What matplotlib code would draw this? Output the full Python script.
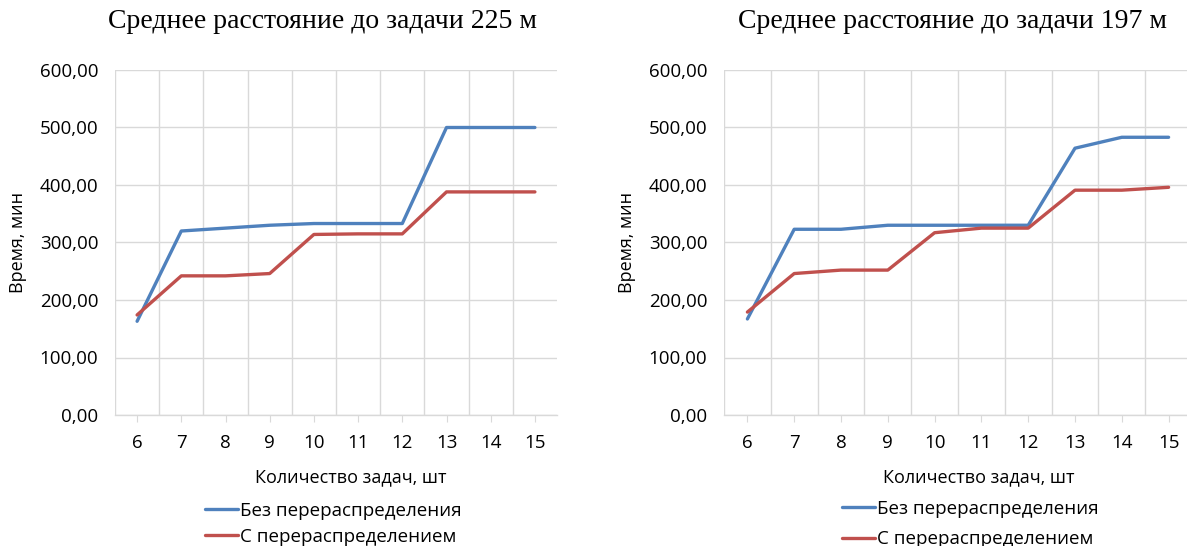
import matplotlib
matplotlib.use("Agg")
import matplotlib.pyplot as plt
from matplotlib.ticker import FuncFormatter, FixedLocator

tasks = [6, 7, 8, 9, 10, 11, 12, 13, 14, 15]
left_no_redistr = [163, 320, 325, 330, 333, 333, 333, 500, 500, 500]
left_redistr = [174, 242, 242, 246, 314, 315, 315, 388, 388, 388]
right_no_redistr = [167, 323, 323, 330, 330, 330, 330, 464, 483, 483]
right_redistr = [179, 246, 252, 252, 317, 325, 325, 391, 391, 396]
titles = ["Среднее расстояние до задачи 225 м", "Среднее расстояние до задачи 197 м"]
series_names = ["Без перераспределения", "С перераспределением"]
xlabel = "Количество задач, шт"
ylabel = "Время, мин"
yticks = [0, 100, 200, 300, 400, 500, 600]

BLUE = "#4F81BD"
RED = "#C0504D"
GRID = "#D9D9D9"
sans = ["Open Sans", "DejaVu Sans"]
serif = ["Liberation Serif", "DejaVu Serif"]
FS = 13.5

fig = plt.figure(figsize=(11.87, 5.46), dpi=100)
W, H = 1187, 546

specs = [
    dict(rect=(115 / W, 1 - 415 / H, 442 / W, 345 / H), a=left_no_redistr, b=left_redistr,
         title=titles[0], title_x=322, ylab_x=18, xlab_x=351, leg_x=205, leg_y=502, sp=0.42),
    dict(rect=(724 / W, 1 - 415 / H, 468 / W, 345 / H), a=right_no_redistr, b=right_redistr,
         title=titles[1], title_x=953, ylab_x=627, xlab_x=979, leg_x=842, leg_y=500, sp=0.65),
]

fmt = FuncFormatter(lambda v, p: f"{v:.2f}".replace(".", ","))

for s in specs:
    ax = fig.add_axes(s["rect"])
    ax.plot(tasks, s["a"], color=BLUE, lw=2.4, label=series_names[0], solid_capstyle="round")
    ax.plot(tasks, s["b"], color=RED, lw=2.4, label=series_names[1], solid_capstyle="round")
    ax.set_xlim(5.5, 15.5)
    ax.set_ylim(0, 600)
    ax.set_yticks(yticks)
    ax.yaxis.set_major_formatter(fmt)
    ax.set_xticks(tasks)
    ax.xaxis.set_minor_locator(FixedLocator([t + 0.5 for t in tasks[:-1]] + [5.5]))
    ax.grid(True, which="major", axis="y", color=GRID, lw=1)
    ax.grid(True, which="minor", axis="x", color=GRID, lw=1)
    ax.set_axisbelow(True)
    for sp in ["top", "right", "left"]:
        ax.spines[sp].set_visible(False)
    ax.spines["bottom"].set_color(GRID)
    ax.spines["bottom"].set_linewidth(1)
    ax.tick_params(axis="y", length=0, pad=12, labelsize=FS, labelcolor="black")
    ax.tick_params(axis="x", which="major", length=5, color=GRID, pad=9, labelsize=FS)
    ax.tick_params(axis="x", which="minor", length=0)
    for lab in ax.get_xticklabels() + ax.get_yticklabels():
        lab.set_family(sans)
    fig.text(s["title_x"] / W, 1 - 22 / H, s["title"], ha="center", va="center",
             fontsize=20, family=serif)
    fig.text(s["ylab_x"] / W, 1 - 242 / H, ylabel, rotation=90, ha="center", va="center",
             fontsize=13, family=sans)
    fig.text(s["xlab_x"] / W, 1 - 477 / H, xlabel, ha="center", va="center", fontsize=13,
             family=sans)
    fig.legend(handles=ax.get_lines(), labels=series_names,
               loc="upper left", bbox_to_anchor=(s["leg_x"] / W, 1 - s["leg_y"] / H),
               frameon=False, handlelength=1.75, handletextpad=0.1,
               labelspacing=s["sp"], borderpad=0, borderaxespad=0,
               prop={"family": sans, "size": FS})

fig.savefig("out.png", dpi=100)
